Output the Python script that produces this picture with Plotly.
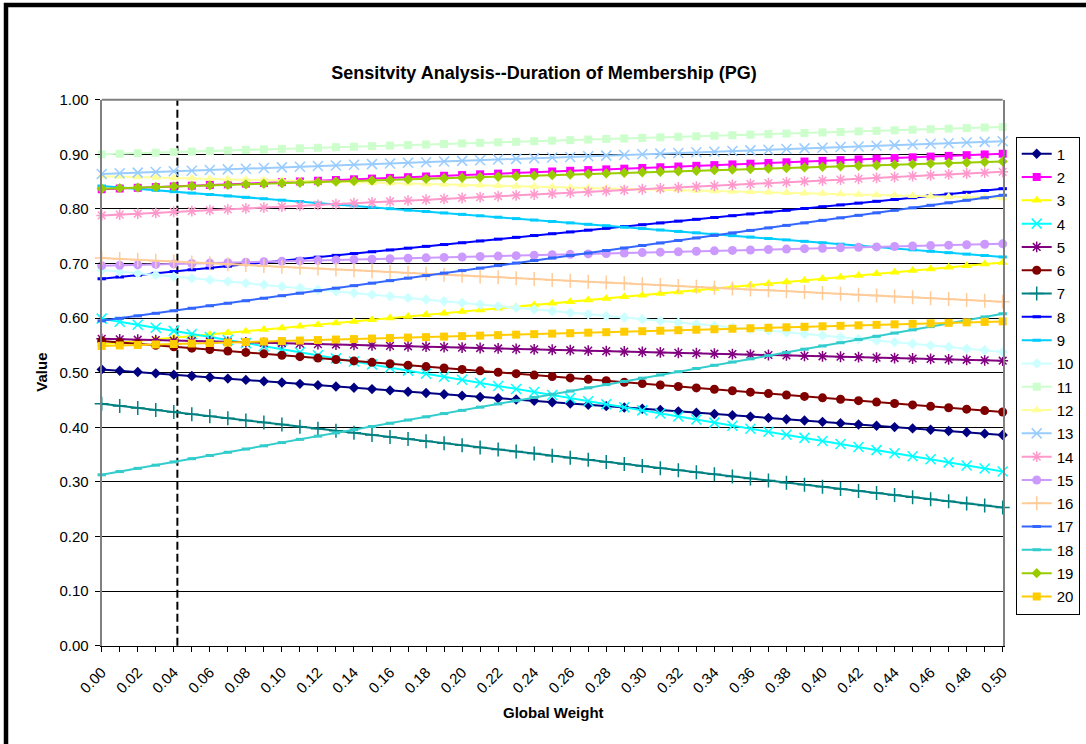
import plotly.graph_objects as go

# ---------------- data ----------------
weights = [0.00, 0.01, 0.02, 0.03, 0.04, 0.05, 0.06, 0.07, 0.08, 0.09,
           0.10, 0.11, 0.12, 0.13, 0.14, 0.15, 0.16, 0.17, 0.18, 0.19,
           0.20, 0.21, 0.22, 0.23, 0.24, 0.25, 0.26, 0.27, 0.28, 0.29,
           0.30, 0.31, 0.32, 0.33, 0.34, 0.35, 0.36, 0.37, 0.38, 0.39,
           0.40, 0.41, 0.42, 0.43, 0.44, 0.45, 0.46, 0.47, 0.48, 0.49,
           0.50]
current_weight = 0.042

s01 = [0.506, 0.5036, 0.5012, 0.4988, 0.4964, 0.494, 0.4916, 0.4892, 0.4868, 0.4844,
       0.482, 0.4796, 0.4772, 0.4748, 0.4724, 0.47, 0.4676, 0.4652, 0.4628, 0.4604,
       0.458, 0.4556, 0.4532, 0.4508, 0.4484, 0.446, 0.4436, 0.4412, 0.4388, 0.4364,
       0.434, 0.4316, 0.4292, 0.4268, 0.4244, 0.422, 0.4196, 0.4172, 0.4148, 0.4124,
       0.41, 0.4076, 0.4052, 0.4028, 0.4004, 0.398, 0.3956, 0.3932, 0.3908, 0.3884,
       0.386]
s02 = [0.836, 0.8373, 0.8386, 0.8399, 0.8412, 0.8425, 0.8438, 0.8451, 0.8464, 0.8477,
       0.849, 0.8503, 0.8516, 0.8529, 0.8542, 0.8555, 0.8568, 0.8581, 0.8594, 0.8607,
       0.862, 0.8633, 0.8646, 0.8659, 0.8672, 0.8685, 0.8698, 0.8711, 0.8724, 0.8737,
       0.875, 0.8763, 0.8776, 0.8789, 0.8802, 0.8815, 0.8828, 0.8841, 0.8854, 0.8867,
       0.888, 0.8893, 0.8906, 0.8919, 0.8932, 0.8945, 0.8958, 0.8971, 0.8984, 0.8997,
       0.901]
s03 = [0.552, 0.555, 0.558, 0.561, 0.564, 0.567, 0.570, 0.573, 0.576, 0.579,
       0.582, 0.585, 0.588, 0.591, 0.594, 0.597, 0.600, 0.603, 0.606, 0.609,
       0.612, 0.615, 0.618, 0.621, 0.624, 0.627, 0.630, 0.633, 0.636, 0.639,
       0.642, 0.645, 0.648, 0.651, 0.654, 0.657, 0.660, 0.663, 0.666, 0.669,
       0.672, 0.675, 0.678, 0.681, 0.684, 0.687, 0.690, 0.693, 0.696, 0.699,
       0.702]
s04 = [0.599, 0.5934, 0.5878, 0.5822, 0.5766, 0.571, 0.5654, 0.5598, 0.5542, 0.5486,
       0.543, 0.5374, 0.5318, 0.5262, 0.5206, 0.515, 0.5094, 0.5038, 0.4982, 0.4926,
       0.487, 0.4814, 0.4758, 0.4702, 0.4646, 0.459, 0.4534, 0.4478, 0.4422, 0.4366,
       0.431, 0.4254, 0.4198, 0.4142, 0.4086, 0.403, 0.3974, 0.3918, 0.3862, 0.3806,
       0.375, 0.3694, 0.3638, 0.3582, 0.3526, 0.347, 0.3414, 0.3358, 0.3302, 0.3246,
       0.319]
s05 = [0.562, 0.5612, 0.5604, 0.5596, 0.5588, 0.558, 0.5572, 0.5564, 0.5556, 0.5548,
       0.554, 0.5532, 0.5524, 0.5516, 0.5508, 0.55, 0.5492, 0.5484, 0.5476, 0.5468,
       0.546, 0.5452, 0.5444, 0.5436, 0.5428, 0.542, 0.5412, 0.5404, 0.5396, 0.5388,
       0.538, 0.5372, 0.5364, 0.5356, 0.5348, 0.534, 0.5332, 0.5324, 0.5316, 0.5308,
       0.53, 0.5292, 0.5284, 0.5276, 0.5268, 0.526, 0.5252, 0.5244, 0.5236, 0.5228,
       0.522]
s06 = [0.558, 0.5554, 0.5528, 0.5502, 0.5476, 0.545, 0.5424, 0.5398, 0.5372, 0.5346,
       0.532, 0.5294, 0.5268, 0.5242, 0.5216, 0.519, 0.5164, 0.5138, 0.5112, 0.5086,
       0.506, 0.5034, 0.5008, 0.4982, 0.4956, 0.493, 0.4904, 0.4878, 0.4852, 0.4826,
       0.48, 0.4774, 0.4748, 0.4722, 0.4696, 0.467, 0.4644, 0.4618, 0.4592, 0.4566,
       0.454, 0.4514, 0.4488, 0.4462, 0.4436, 0.441, 0.4384, 0.4358, 0.4332, 0.4306,
       0.428]
s07 = [0.443, 0.4392, 0.4354, 0.4316, 0.4278, 0.424, 0.4202, 0.4164, 0.4126, 0.4088,
       0.405, 0.4012, 0.3974, 0.3936, 0.3898, 0.386, 0.3822, 0.3784, 0.3746, 0.3708,
       0.367, 0.3632, 0.3594, 0.3556, 0.3518, 0.348, 0.3442, 0.3404, 0.3366, 0.3328,
       0.329, 0.3252, 0.3214, 0.3176, 0.3138, 0.31, 0.3062, 0.3024, 0.2986, 0.2948,
       0.291, 0.2872, 0.2834, 0.2796, 0.2758, 0.272, 0.2682, 0.2644, 0.2606, 0.2568,
       0.253]
s08 = [0.672, 0.6753, 0.6786, 0.6819, 0.6852, 0.6885, 0.6918, 0.6951, 0.6984, 0.7017,
       0.705, 0.7083, 0.7116, 0.7149, 0.7182, 0.7215, 0.7248, 0.7281, 0.7314, 0.7347,
       0.738, 0.7413, 0.7446, 0.7479, 0.7512, 0.7545, 0.7578, 0.7611, 0.7644, 0.7677,
       0.771, 0.7743, 0.7776, 0.7809, 0.7842, 0.7875, 0.7908, 0.7941, 0.7974, 0.8007,
       0.804, 0.8073, 0.8106, 0.8139, 0.8172, 0.8205, 0.8238, 0.8271, 0.8304, 0.8337,
       0.837]
s09 = [0.842, 0.8394, 0.8368, 0.8342, 0.8316, 0.829, 0.8264, 0.8238, 0.8212, 0.8186,
       0.816, 0.8134, 0.8108, 0.8082, 0.8056, 0.803, 0.8004, 0.7978, 0.7952, 0.7926,
       0.79, 0.7874, 0.7848, 0.7822, 0.7796, 0.777, 0.7744, 0.7718, 0.7692, 0.7666,
       0.764, 0.7614, 0.7588, 0.7562, 0.7536, 0.751, 0.7484, 0.7458, 0.7432, 0.7406,
       0.738, 0.7354, 0.7328, 0.7302, 0.7276, 0.725, 0.7224, 0.7198, 0.7172, 0.7146,
       0.712]
s10 = [0.688, 0.685, 0.682, 0.679, 0.676, 0.673, 0.670, 0.667, 0.664, 0.661,
       0.658, 0.655, 0.652, 0.649, 0.646, 0.643, 0.640, 0.637, 0.634, 0.631,
       0.628, 0.625, 0.622, 0.619, 0.616, 0.613, 0.610, 0.607, 0.604, 0.601,
       0.598, 0.595, 0.592, 0.589, 0.586, 0.583, 0.580, 0.577, 0.574, 0.571,
       0.568, 0.565, 0.562, 0.559, 0.556, 0.553, 0.550, 0.547, 0.544, 0.541,
       0.538]
s11 = [0.900, 0.901, 0.902, 0.903, 0.904, 0.905, 0.906, 0.907, 0.908, 0.909,
       0.910, 0.911, 0.912, 0.913, 0.914, 0.915, 0.916, 0.917, 0.918, 0.919,
       0.920, 0.921, 0.922, 0.923, 0.924, 0.925, 0.926, 0.927, 0.928, 0.929,
       0.930, 0.931, 0.932, 0.933, 0.934, 0.935, 0.936, 0.937, 0.938, 0.939,
       0.940, 0.941, 0.942, 0.943, 0.944, 0.945, 0.946, 0.947, 0.948, 0.949,
       0.950]
s12 = [0.86, 0.8592, 0.8584, 0.8576, 0.8568, 0.856, 0.8552, 0.8544, 0.8536, 0.8528,
       0.852, 0.8512, 0.8504, 0.8496, 0.8488, 0.848, 0.8472, 0.8464, 0.8456, 0.8448,
       0.844, 0.8432, 0.8424, 0.8416, 0.8408, 0.84, 0.8392, 0.8384, 0.8376, 0.8368,
       0.836, 0.8352, 0.8344, 0.8336, 0.8328, 0.832, 0.8312, 0.8304, 0.8296, 0.8288,
       0.828, 0.8272, 0.8264, 0.8256, 0.8248, 0.824, 0.8232, 0.8224, 0.8216, 0.8208,
       0.82]
s13 = [0.864, 0.8652, 0.8664, 0.8676, 0.8688, 0.87, 0.8712, 0.8724, 0.8736, 0.8748,
       0.876, 0.8772, 0.8784, 0.8796, 0.8808, 0.882, 0.8832, 0.8844, 0.8856, 0.8868,
       0.888, 0.8892, 0.8904, 0.8916, 0.8928, 0.894, 0.8952, 0.8964, 0.8976, 0.8988,
       0.9, 0.9012, 0.9024, 0.9036, 0.9048, 0.906, 0.9072, 0.9084, 0.9096, 0.9108,
       0.912, 0.9132, 0.9144, 0.9156, 0.9168, 0.918, 0.9192, 0.9204, 0.9216, 0.9228,
       0.924]
s14 = [0.788, 0.7896, 0.7912, 0.7928, 0.7944, 0.796, 0.7976, 0.7992, 0.8008, 0.8024,
       0.804, 0.8056, 0.8072, 0.8088, 0.8104, 0.812, 0.8136, 0.8152, 0.8168, 0.8184,
       0.82, 0.8216, 0.8232, 0.8248, 0.8264, 0.828, 0.8296, 0.8312, 0.8328, 0.8344,
       0.836, 0.8376, 0.8392, 0.8408, 0.8424, 0.844, 0.8456, 0.8472, 0.8488, 0.8504,
       0.852, 0.8536, 0.8552, 0.8568, 0.8584, 0.86, 0.8616, 0.8632, 0.8648, 0.8664,
       0.868]
s15 = [0.696, 0.6968, 0.6976, 0.6984, 0.6992, 0.7, 0.7008, 0.7016, 0.7024, 0.7032,
       0.704, 0.7048, 0.7056, 0.7064, 0.7072, 0.708, 0.7088, 0.7096, 0.7104, 0.7112,
       0.712, 0.7128, 0.7136, 0.7144, 0.7152, 0.716, 0.7168, 0.7176, 0.7184, 0.7192,
       0.72, 0.7208, 0.7216, 0.7224, 0.7232, 0.724, 0.7248, 0.7256, 0.7264, 0.7272,
       0.728, 0.7288, 0.7296, 0.7304, 0.7312, 0.732, 0.7328, 0.7336, 0.7344, 0.7352,
       0.736]
s16 = [0.71, 0.7084, 0.7068, 0.7052, 0.7036, 0.702, 0.7004, 0.6988, 0.6972, 0.6956,
       0.694, 0.6924, 0.6908, 0.6892, 0.6876, 0.686, 0.6844, 0.6828, 0.6812, 0.6796,
       0.678, 0.6764, 0.6748, 0.6732, 0.6716, 0.67, 0.6684, 0.6668, 0.6652, 0.6636,
       0.662, 0.6604, 0.6588, 0.6572, 0.6556, 0.654, 0.6524, 0.6508, 0.6492, 0.6476,
       0.646, 0.6444, 0.6428, 0.6412, 0.6396, 0.638, 0.6364, 0.6348, 0.6332, 0.6316,
       0.63]
s17 = [0.595, 0.5996, 0.6042, 0.6088, 0.6134, 0.618, 0.6226, 0.6272, 0.6318, 0.6364,
       0.641, 0.6456, 0.6502, 0.6548, 0.6594, 0.664, 0.6686, 0.6732, 0.6778, 0.6824,
       0.687, 0.6916, 0.6962, 0.7008, 0.7054, 0.71, 0.7146, 0.7192, 0.7238, 0.7284,
       0.733, 0.7376, 0.7422, 0.7468, 0.7514, 0.756, 0.7606, 0.7652, 0.7698, 0.7744,
       0.779, 0.7836, 0.7882, 0.7928, 0.7974, 0.802, 0.8066, 0.8112, 0.8158, 0.8204,
       0.825]
s18 = [0.313, 0.3189, 0.3248, 0.3307, 0.3366, 0.3425, 0.3484, 0.3543, 0.3602, 0.3661,
       0.372, 0.3779, 0.3838, 0.3897, 0.3956, 0.4015, 0.4074, 0.4133, 0.4192, 0.4251,
       0.431, 0.4369, 0.4428, 0.4487, 0.4546, 0.4605, 0.4664, 0.4723, 0.4782, 0.4841,
       0.49, 0.4959, 0.5018, 0.5077, 0.5136, 0.5195, 0.5254, 0.5313, 0.5372, 0.5431,
       0.549, 0.5549, 0.5608, 0.5667, 0.5726, 0.5785, 0.5844, 0.5903, 0.5962, 0.6021,
       0.608]
s19 = [0.837, 0.838, 0.839, 0.840, 0.841, 0.842, 0.843, 0.844, 0.845, 0.846,
       0.847, 0.848, 0.849, 0.850, 0.851, 0.852, 0.853, 0.854, 0.855, 0.856,
       0.857, 0.858, 0.859, 0.860, 0.861, 0.862, 0.863, 0.864, 0.865, 0.866,
       0.867, 0.868, 0.869, 0.870, 0.871, 0.872, 0.873, 0.874, 0.875, 0.876,
       0.877, 0.878, 0.879, 0.880, 0.881, 0.882, 0.883, 0.884, 0.885, 0.886,
       0.887]
s20 = [0.549, 0.5499, 0.5508, 0.5517, 0.5526, 0.5535, 0.5544, 0.5553, 0.5562, 0.5571,
       0.558, 0.5589, 0.5598, 0.5607, 0.5616, 0.5625, 0.5634, 0.5643, 0.5652, 0.5661,
       0.567, 0.5679, 0.5688, 0.5697, 0.5706, 0.5715, 0.5724, 0.5733, 0.5742, 0.5751,
       0.576, 0.5769, 0.5778, 0.5787, 0.5796, 0.5805, 0.5814, 0.5823, 0.5832, 0.5841,
       0.585, 0.5859, 0.5868, 0.5877, 0.5886, 0.5895, 0.5904, 0.5913, 0.5922, 0.5931,
       0.594]

series_names = [str(i) for i in range(1, 21)]
series_values = [s01, s02, s03, s04, s05, s06, s07, s08, s09, s10,
                 s11, s12, s13, s14, s15, s16, s17, s18, s19, s20]
for v in series_values:
    assert len(v) == len(weights), len(v)

# ---------------- styles ----------------
colors = ["#000080", "#FF00FF", "#FFFF00", "#00FFFF", "#800080",
          "#800000", "#008080", "#0000FF", "#00CCFF", "#CCFFFF",
          "#CCFFCC", "#FFFF99", "#99CCFF", "#FF99CC", "#CC99FF",
          "#FFCC99", "#3366FF", "#33CCCC", "#99CC00", "#FFCC00"]
symbols = ["diamond", "square", "triangle-up", "x-thin-open", "asterisk-open",
           "circle", "cross-thin-open", "line-ew-open", "line-ew-open", "diamond",
           "square", "triangle-up", "x-thin-open", "asterisk-open", "circle",
           "cross-thin-open", "line-ew-open", "line-ew-open", "diamond", "square"]
sizes = {"diamond": 8, "square": 8, "triangle-up": 9, "x-thin-open": 10,
         "asterisk-open": 9, "circle": 9, "cross-thin-open": 10, "line-ew-open": 6}

W, H = 1086, 744
FONT = "Arial, 'Liberation Sans', sans-serif"


def fx(p):
    return p / W


def fy(p):
    return 1 - p / H


fig = go.Figure()
for name, vals, col, sym in zip(series_names, series_values, colors, symbols):
    is_open = sym.endswith("-open")
    lw = 3 if sym == "line-ew-open" else (1.5 if is_open else 0)
    fig.add_trace(go.Scatter(
        x=weights, y=vals, name=name, mode="lines+markers",
        legendgroup=name, cliponaxis=False,
        line=dict(color=col, width=2),
        marker=dict(symbol=sym, size=sizes[sym], color=col,
                    line=dict(color=col, width=lw)),
    ))

# current-weight reference line
fig.add_shape(type="line", xref="x", yref="y domain",
              x0=current_weight, x1=current_weight, y0=0, y1=1,
              line=dict(color="black", width=2, dash="8px,4px"), layer="below")
# top border of plot area
fig.add_shape(type="line", xref="x domain", yref="y domain",
              x0=0, x1=1, y0=1, y1=1, line=dict(color="#808080", width=2))
# outer chart frame
fig.add_shape(type="rect", xref="paper", yref="paper",
              x0=fx(6), x1=1.05, y0=-0.05, y1=fy(5),
              line=dict(color="black", width=4.5), fillcolor="rgba(0,0,0,0)")

fig.update_layout(
    width=W, height=H,
    margin=dict(l=0, r=0, t=0, b=0, pad=0, autoexpand=False),
    paper_bgcolor="white", plot_bgcolor="white",
    font=dict(family=FONT, size=15, color="black"),
    title=dict(text="<b>Sensitvity Analysis--Duration of Membership (PG)</b>",
               x=fx(544), y=fy(73), xanchor="center", yanchor="middle",
               font=dict(size=18, family=FONT, color="black")),
    xaxis=dict(domain=[fx(101.7), fx(1002.7)], range=[0, 0.5],
               tick0=0, dtick=0.02, tickformat=".2f", tickangle=-45,
               ticks="outside", ticklen=5, tickcolor="black", tickwidth=1,
               showgrid=False, zeroline=False, automargin=False,
               showline=True, linecolor="black", linewidth=1,
               ticklabelstandoff=6,
               minor=dict(dtick=0.01, ticks="outside", ticklen=5,
                          tickcolor="black", showgrid=False),
               tickfont=dict(size=15)),
    yaxis=dict(domain=[fy(645.7), fy(99.7)], range=[0, 1],
               tick0=0, dtick=0.1, tickformat=".2f",
               ticks="outside", ticklen=5, tickcolor="black",
               showgrid=True, gridcolor="black", gridwidth=1,
               zeroline=False, showline=True, linecolor="#808080",
               linewidth=2, mirror=True, ticklabelstandoff=3,
               automargin=False, tickfont=dict(size=15)),
    legend=dict(x=fx(1015.7), y=fy(136.5), xanchor="left", yanchor="top",
                bordercolor="black", borderwidth=1, bgcolor="white",
                tracegroupgap=0.8, font=dict(size=15, family=FONT),
                itemwidth=30),
    annotations=[
        dict(text="<b>Value</b>", x=fx(42), y=fy(372.7), xref="paper",
             yref="paper", showarrow=False, textangle=-90,
             xanchor="center", yanchor="middle",
             font=dict(size=15, family=FONT)),
        dict(text="<b>Global Weight</b>", x=fx(553), y=fy(712), xref="paper",
             yref="paper", showarrow=False, xanchor="center", yanchor="middle",
             font=dict(size=15, family=FONT)),
    ],
)

fig.write_html(
    "out.html",
    config={"displayModeBar": False},
    post_script="document.body.style.margin='0px';"
                "document.body.style.overflow='hidden';",
)
